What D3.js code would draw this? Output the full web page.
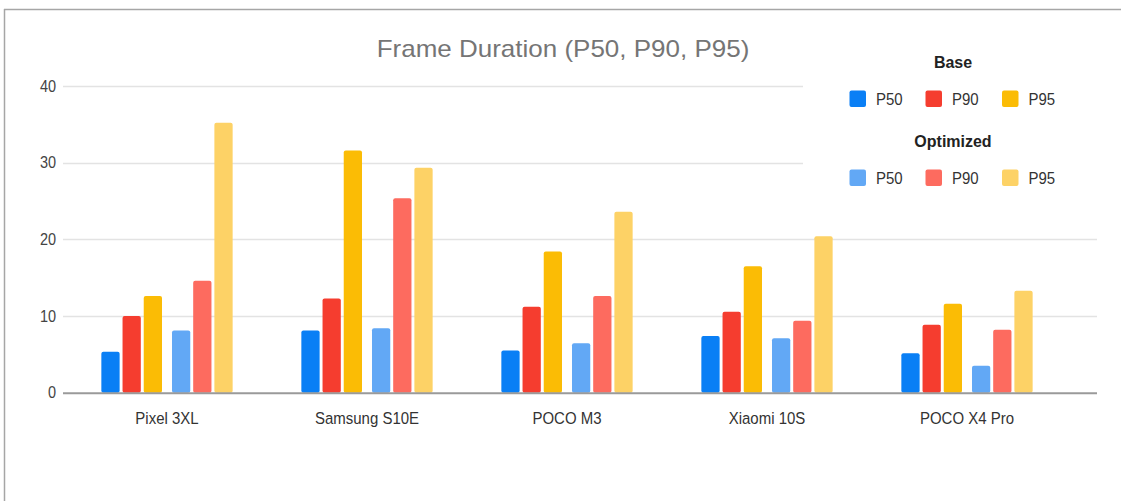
<!DOCTYPE html>
<html><head><meta charset="utf-8">
<script src="https://cdn.jsdelivr.net/npm/d3@7"></script>
<style>body{margin:0;background:#fff}svg{display:block;font-family:"Liberation Sans",Arial,sans-serif}</style>
</head><body><svg id="c" width="1121" height="501"></svg>
<script>
const categories = ["Pixel 3XL","Samsung S10E","POCO M3","Xiaomi 10S","POCO X4 Pro"];
const groups = ["Base","Optimized"];
const metrics = ["P50","P90","P95"];
const baseP50 = [5.35, 8.1, 5.5, 7.4, 5.15];
const baseP90 = [10.0, 12.3, 11.2, 10.55, 8.85];
const baseP95 = [12.6, 31.6, 18.4, 16.5, 11.6];
const optP50 = [8.1, 8.4, 6.45, 7.1, 3.5];
const optP90 = [14.6, 25.35, 12.6, 9.4, 8.2];
const optP95 = [35.2, 29.35, 23.6, 20.4, 13.3];
const yTicks = [0, 10, 20, 30, 40];
const colors = {
  Base: {P50:"#0a7ff5", P90:"#f53d2f", P95:"#fbbc05"},
  Optimized: {P50:"#62a8f5", P90:"#fd6b5f", P95:"#fdd266"}
};
const seriesData = {
  Base: {P50: baseP50, P90: baseP90, P95: baseP95},
  Optimized: {P50: optP50, P90: optP90, P95: optP95}
};

const svg = d3.select("#c");
const plotL = 63, plotR = 1097;
const y = d3.scaleLinear().domain([0, 40]).range([392.7, 86]);
const x0 = d3.scaleBand().domain(categories).range([67, 1067]).paddingInner(0.3435).paddingOuter(0.17175);
const x1 = d3.scaleBand().domain(groups).range([0, x0.bandwidth()]).paddingInner(0.1415);
const x2 = d3.scaleBand().domain(metrics).range([0, x1.bandwidth()]).paddingInner(0.138);

// stretched text helper: font size from width, vertical scale from glyph height
function sText(sel, x, yy, sy) {
  return sel.attr("transform", `translate(${x},${yy}) scale(1,${sy})`);
}

// frame
svg.append("line").attr("x1",4).attr("x2",1121).attr("y1",9.5).attr("y2",9.5).attr("stroke","#a6a6a6").attr("stroke-width",1.5);
svg.append("line").attr("x1",4.5).attr("x2",4.5).attr("y1",9).attr("y2",501).attr("stroke","#a6a6a6").attr("stroke-width",1.5);

// gridlines
svg.append("g").selectAll("line").data(yTicks.filter(d=>d>0)).join("line")
  .attr("x1", plotL).attr("x2", plotR)
  .attr("y1", d=>Math.round(y(d))+0.5).attr("y2", d=>Math.round(y(d))+0.5)
  .attr("stroke","#e3e3e3").attr("stroke-width",1.5);

// y axis labels
const yAxis = d3.axisLeft(y).tickValues(yTicks).tickSize(0).tickPadding(0);
svg.append("g").attr("transform","translate(56,0)").call(yAxis)
  .call(g=>g.select(".domain").remove())
  .call(g=>g.selectAll(".tick").each(function(d){
    d3.select(this).attr("transform", `translate(0,${y(d)+5.5}) scale(1,1.12)`);
  }))
  .call(g=>g.selectAll("text").attr("dy",0).attr("font-size",14.5).attr("fill","#444").attr("font-family","Liberation Sans, Arial, sans-serif"));

// bars
const flat = [];
categories.forEach((c,i)=>groups.forEach(g=>metrics.forEach(m=>flat.push({c,g,m,v:seriesData[g][m][i]}))));
svg.append("g").selectAll("rect").data(flat).join("rect")
  .attr("x", d=>x0(d.c)+x1(d.g)+x2(d.m))
  .attr("width", x2.bandwidth())
  .attr("y", d=>y(d.v))
  .attr("height", d=>y(0)-y(d.v))
  .attr("rx",2).attr("ry",2)
  .attr("fill", d=>colors[d.g][d.m]);

// baseline
svg.append("line").attr("x1",plotL).attr("x2",plotR).attr("y1",y(0)+0.5).attr("y2",y(0)+0.5).attr("stroke","#9a9a9a").attr("stroke-width",2);

// x axis labels
const xAxis = d3.axisBottom(x0).tickSize(0).tickPadding(0);
svg.append("g").call(xAxis)
  .call(g=>g.select(".domain").remove())
  .call(g=>g.selectAll(".tick").each(function(d){
    d3.select(this).attr("transform", `translate(${x0(d)+x0.bandwidth()/2},424) scale(1,1.12)`);
  }))
  .call(g=>g.selectAll("text").attr("y",0).attr("dy",0).attr("font-size",15).attr("fill","#333").attr("font-family","Liberation Sans, Arial, sans-serif"));

// title
svg.append("text").attr("text-anchor","middle")
  .attr("font-size",26).attr("fill","#757575").text("Frame Duration (P50, P90, P95)")
  .call(s=>sText(s,563,57,0.9));

// legend
const leg = svg.append("g");
leg.append("rect").attr("x",803).attr("y",40).attr("width",300).attr("height",160).attr("fill","#fff");
const rowY = {Base: 90.5, Optimized: 169.5};
const headY = {Base: 68.3, Optimized: 147};
const swX = [849.5, 925.5, 1002];
groups.forEach(g=>{
  leg.append("text").attr("text-anchor","middle")
    .attr("font-size",16).attr("font-weight","bold").attr("fill","#222").text(g)
    .call(s=>sText(s,953,headY[g],1.05));
  metrics.forEach((m,j)=>{
    leg.append("rect").attr("x",swX[j]).attr("y",rowY[g]).attr("width",16.5).attr("height",16.5).attr("rx",2)
      .attr("fill",colors[g][m]);
    leg.append("text").attr("font-size",15).attr("fill","#333").text(m)
      .call(s=>sText(s,swX[j]+26.5,rowY[g]+14.5,1.12));
  });
});
</script></body></html>
